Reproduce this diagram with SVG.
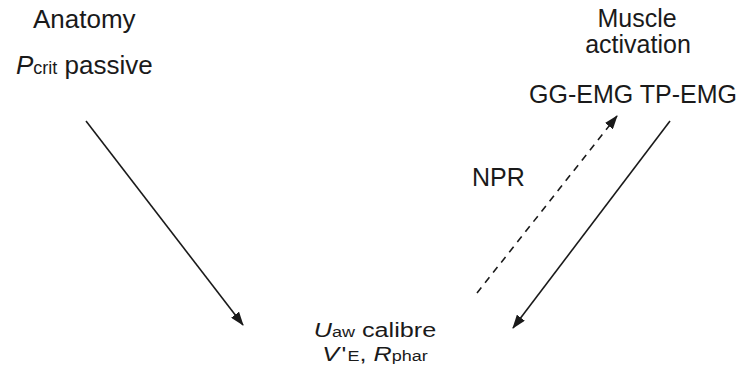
<svg xmlns="http://www.w3.org/2000/svg" width="745" height="374" viewBox="0 0 745 374">
  <style>
    text { font-family: "Liberation Sans", Arial, sans-serif; font-size: 25px; fill: #1a1a1a; }
    .sub { font-size: 18px; }
    .it { font-style: italic; }
    .small { font-size: 21px; }
    .small .sub { font-size: 15px; }
    .edge { stroke: #1a1a1a; stroke-width: 1.6; fill: none; }
    .dash { stroke-dasharray: 7 6; }
  </style>
  <defs>
    <marker id="head" viewBox="0 0 14 10" refX="13" refY="5" markerWidth="14" markerHeight="10" markerUnits="userSpaceOnUse" orient="auto">
      <path d="M0,0 L14,5 L0,10 z" fill="#1a1a1a"/>
    </marker>
  </defs>

  <g id="anatomy">
    <text x="33" y="28" style="font-size:26px">Anatomy</text>
  </g>
  <g id="pcrit">
    <text x="16" y="74" style="font-size:26px"><tspan class="it">P</tspan><tspan class="sub">crit</tspan> passive</text>
  </g>
  <g id="muscle-activation">
    <text x="637" y="27" text-anchor="middle">Muscle</text>
    <text x="638" y="53" text-anchor="middle">activation</text>
  </g>
  <g id="emg">
    <text x="633" y="103" text-anchor="middle">GG-EMG TP-EMG</text>
  </g>
  <g id="npr">
    <text x="472" y="186">NPR</text>
  </g>
  <!-- airway outcome label: widened type -->
  <g id="airway" transform="translate(375,0) scale(1.2,1)">
    <text class="small" x="0" y="337" text-anchor="middle"><tspan class="it">U</tspan><tspan class="sub">aw</tspan> calibre</text>
    <text class="small" x="0" y="361" text-anchor="middle"><tspan class="it">V</tspan><tspan dx="2">'</tspan><tspan class="sub" dx="1">E</tspan>, <tspan class="it">R</tspan><tspan class="sub">phar</tspan></text>
  </g>

  <g id="connectors">
    <line class="edge" x1="86" y1="121" x2="243" y2="325" marker-end="url(#head)"/>
    <line class="edge dash" x1="477" y1="293" x2="617" y2="116" marker-end="url(#head)"/>
    <line class="edge" x1="670" y1="121" x2="513" y2="328" marker-end="url(#head)"/>
  </g>
</svg>
